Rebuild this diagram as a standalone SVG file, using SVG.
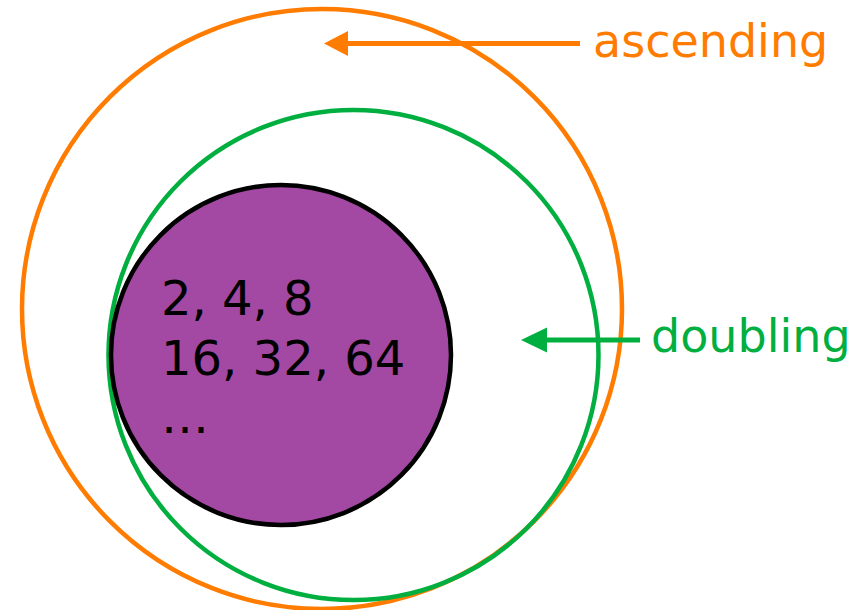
<svg xmlns="http://www.w3.org/2000/svg" width="863" height="610" viewBox="0 0 863 610">
<style>
.ring{fill:none;stroke-width:4.5}
.lbl{font-family:"DejaVu Sans",Verdana,sans-serif;font-size:46px}
.num{font-family:"DejaVu Sans",Verdana,sans-serif;font-size:48px;fill:#000}
</style>
<defs>
<marker id="ao" markerUnits="userSpaceOnUse" markerWidth="26" markerHeight="26" viewBox="0 0 26 26" refX="8" refY="12.5" orient="auto"><path d="M0,0 L24,12.5 L0,25 Z" fill="#FF7C00"/></marker>
<marker id="ag" markerUnits="userSpaceOnUse" markerWidth="26" markerHeight="26" viewBox="0 0 26 26" refX="8" refY="12.5" orient="auto"><path d="M0,0 L26,12.5 L0,25 Z" fill="#00AF3F"/></marker>
</defs>
<rect width="863" height="610" fill="#fff"/>
<g id="ascending">
<circle class="ring" cx="322" cy="309" r="300" stroke="#FF7C00"/>
<text class="lbl" x="593" y="57" fill="#FF7C00">ascending</text>
</g>
<g id="doubling">
<circle class="ring" cx="353.5" cy="355" r="245" stroke="#00AF3F"/>
<text class="lbl" x="651" y="352" fill="#00AF3F">doubling</text>
</g>
<g id="examples">
<circle cx="281" cy="355" r="170" fill="#A349A4" stroke="#000" stroke-width="4.5"/>
<text class="num" x="161" y="315">2, 4, 8</text>
<text class="num" x="161" y="375">16, 32, 64</text>
<text class="num" x="161" y="433">…</text>
</g>
<g id="connectors">
<line x1="580" y1="43.5" x2="340" y2="43.5" stroke="#FF7C00" stroke-width="5" marker-end="url(#ao)"/>
<line x1="640" y1="340" x2="539" y2="340" stroke="#00AF3F" stroke-width="5" marker-end="url(#ag)"/>
</g>
</svg>
